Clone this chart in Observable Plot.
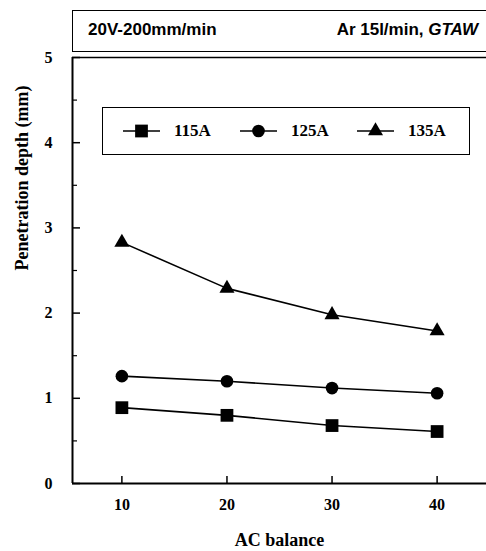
<!DOCTYPE html>
<html>
<head>
<meta charset="utf-8">
<script src="https://cdn.jsdelivr.net/npm/d3@7"></script>
<script src="https://cdn.jsdelivr.net/npm/@observablehq/plot@0.6"></script>
<style>
  html, body { margin: 0; padding: 0; background: #fff; overflow: hidden; }
  #wrap { position: relative; width: 486px; height: 551px; overflow: hidden; }
  #wrap > svg { position: absolute; left: 0; top: 0; }
  .hdr { position: absolute; left: 72px; top: 10px; width: 430px; height: 42px;
         border: 1.5px solid #000; box-sizing: border-box; background: #fff;
         font-family: "Liberation Sans", Arial, sans-serif; font-weight: bold; font-size: 17px; }
  .hdr .l { position: absolute; left: 15px; top: 9px; }
  .hdr .r { position: absolute; right: 23px; top: 9px; white-space: nowrap; }
  .leg { position: absolute; left: 102px; top: 107px; width: 368px; height: 48px;
         border: 1.5px solid #000; box-sizing: border-box; background: #fff;
         font-family: "Liberation Serif", "Times New Roman", serif; font-weight: bold; font-size: 17px; }
  .leg .item { position: absolute; top: 0; height: 45px; display: flex; align-items: center; }
  #wrap .leg svg { position: static; margin-right: 14px; display: block; }
</style>
</head>
<body>
<div id="wrap"></div>
<script>
// ---- data ----
const acBalance = [10, 20, 30, 40];
const series = ["115A", "125A", "135A"];
const depth115 = [0.89, 0.80, 0.68, 0.61];
const depth125 = [1.26, 1.20, 1.12, 1.06];
const depth135 = [2.83, 2.29, 1.98, 1.79];
const yTicks = [0, 1, 2, 3, 4, 5];
const yMinorTicks = [0.5, 1.5, 2.5, 3.5, 4.5];
const xTitle = "AC balance";
const yTitle = "Penetration depth (mm)";
const headerLeft = "20V-200mm/min";
const headerRight = "Ar 15l/min, ";
const headerRightItalic = "GTAW";

const symbols = {"115A": "square", "125A": "circle", "135A": "triangle"};
const radii = {"115A": 7.2, "125A": 6.3, "135A": 5.6};
const values = {"115A": depth115, "125A": depth125, "135A": depth135};
const data = series.flatMap(s => acBalance.map((x, i) => ({series: s, x, y: values[s][i]})));

const serif = '"Liberation Serif", "Times New Roman", serif';

const W = 486, H = 551, mL = 72, mR = 0, mT = 57, mB = 68;
const plotW = W - mL - mR, plotH = H - mT - mB;

const chart = Plot.plot({
  width: W,
  height: H,
  marginLeft: mL,
  marginRight: mR,
  marginTop: mT,
  marginBottom: mB,
  x: {domain: [5.3, 44.7]},
  y: {domain: [0, 5]},
  style: {fontFamily: serif, fontWeight: "bold", color: "#000", background: "transparent"},
  marks: [
    Plot.ruleX([5.3], {stroke: "#000", strokeWidth: 2}),
    Plot.ruleY([0], {stroke: "#000", strokeWidth: 2}),
    Plot.ruleY([5], {stroke: "#000", strokeWidth: 1.5}),
    // inward ticks
    Plot.ruleY(yTicks, {insetRight: plotW - 8, stroke: "#000", strokeWidth: 1.5}),
    Plot.ruleY(yMinorTicks, {insetRight: plotW - 5, stroke: "#000", strokeWidth: 1.2}),
    Plot.ruleX(acBalance, {insetTop: plotH - 7, stroke: "#000", strokeWidth: 1.5}),
    // labels
    Plot.axisY({ticks: yTicks, tickSize: 0, tickPadding: 20, fontSize: 16, tickFormat: d => String(d), label: null}),
    Plot.axisX({ticks: acBalance, tickSize: 0, tickPadding: 15, fontSize: 16, tickFormat: d => String(d), label: null}),
    Plot.text([yTitle], {frameAnchor: "left", rotate: -90, dx: -50, fontSize: 18, fontWeight: "bold"}),
    Plot.text([xTitle], {frameAnchor: "bottom", dy: 62, fontSize: 18, fontWeight: "bold"}),
    // data
    Plot.line(data, {x: "x", y: "y", z: "series", stroke: "#000", strokeWidth: 1.6}),
    ...series.map(s => Plot.dot(data.filter(d => d.series === s),
      {x: "x", y: "y", symbol: () => symbols[s], r: radii[s], fill: "#000", stroke: "none"}))
  ]
});

const wrap = document.getElementById("wrap");
wrap.appendChild(chart);

// header box
const hdr = document.createElement("div");
hdr.className = "hdr";
hdr.innerHTML = `<span class="l">${headerLeft}</span><span class="r">${headerRight}<i>${headerRightItalic}</i></span>`;
wrap.appendChild(hdr);

// legend box
const leg = document.createElement("div");
leg.className = "leg";
const legX = [20, 137, 254];
series.forEach((s, i) => {
  const item = document.createElement("div");
  item.className = "item";
  item.style.left = legX[i] + "px";
  const sym = d3.symbol().type(s === "115A" ? d3.symbolSquare : s === "125A" ? d3.symbolCircle : d3.symbolTriangle)
    .size(Math.PI * radii[s] * radii[s])();
  item.innerHTML = `<svg width="37" height="20" viewBox="-18.5 -10 37 20">
      <line x1="-18.5" x2="18.5" y1="0" y2="0" stroke="#000" stroke-width="1.6"/>
      <path d="${sym}" fill="#000"/></svg><span>${s}</span>`;
  leg.appendChild(item);
});
wrap.appendChild(leg);
</script>
</body>
</html>
